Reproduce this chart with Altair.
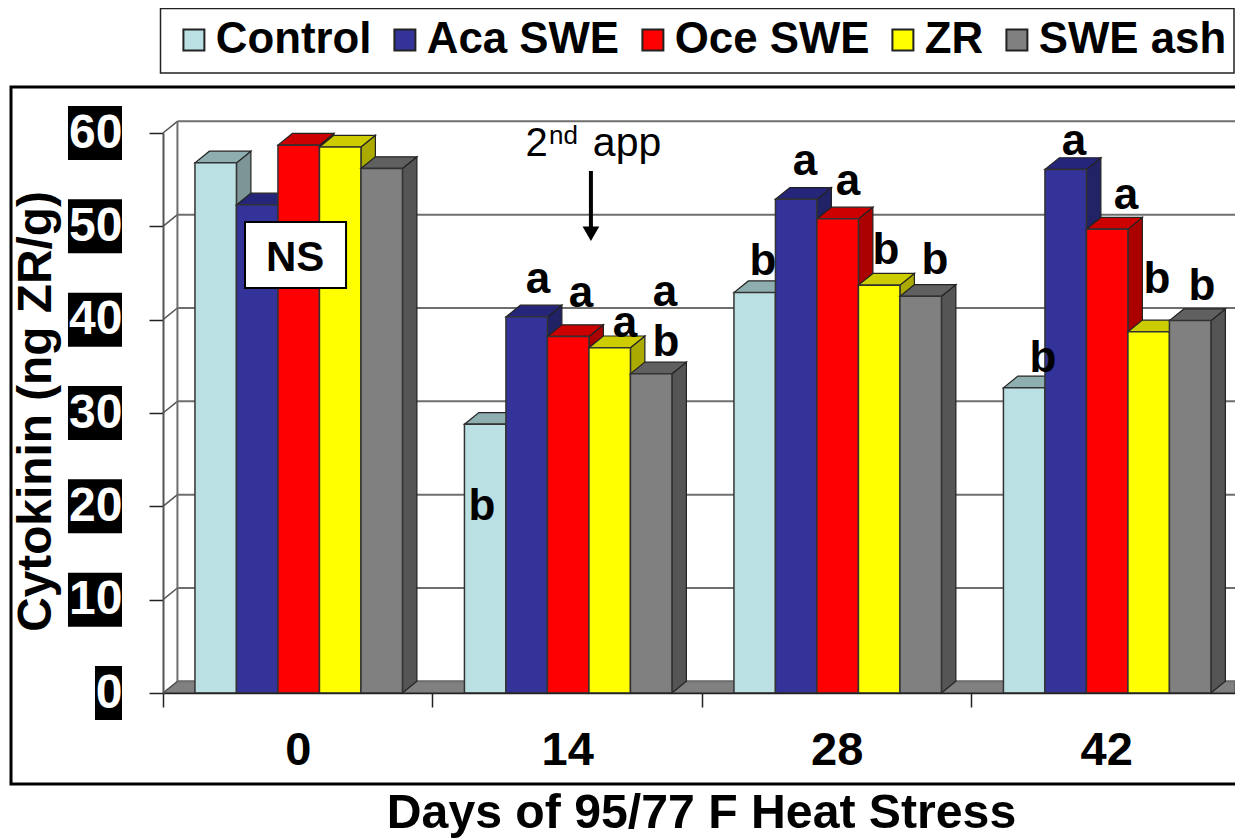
import altair as alt
import pandas as pd

days = [0, 14, 28, 42]
series = ["Control", "Aca SWE", "Oce SWE", "ZR", "SWE ash"]
control = [56.8, 28.8, 42.9, 32.7]
aca = [52.3, 40.3, 52.9, 56.1]
oce = [58.7, 38.2, 50.8, 49.7]
zr = [58.5, 37.0, 43.7, 38.7]
ash = [56.2, 34.2, 42.5, 39.9]
values = [control, aca, oce, zr, ash]

front_colors = ["#BBE0E3", "#333399", "#FF0000", "#FFFF00", "#808080"]
top_colors = ["#8FAEAF", "#25257A", "#CC0000", "#CCCC00", "#606060"]
side_colors = ["#7D9597", "#222266", "#AA0000", "#AAAA00", "#555555"]

y_ticks = [0, 10, 20, 30, 40, 50, 60]
x_ticks = [-7, 7, 21, 35]

letter_text = ["b", "a", "a", "a", "a", "b",
               "b", "a", "a", "b", "b",
               "b", "a", "a", "b", "b"]
letter_x = [9.57, 12.48, 14.71, 17.0, 19.08, 19.13,
            24.17, 26.35, 28.58, 30.56, 33.1,
            38.71, 40.32, 43.03, 44.64, 46.97]
letter_y = [18.54, 42.86, 41.36, 38.14, 41.47, 36.11,
            44.79, 55.5, 53.36, 45.96, 44.89,
            34.39, 57.64, 51.86, 42.86, 42.11]

BAR = 2.156      # bar width in days
START = -5.34    # first bar offset from the group's day
DX = 0.75        # depth of the 3-D effect, days
DY = 1.25        # depth of the 3-D effect, value units
X_MAX = 48.69

xs = alt.Scale(domain=[-7, X_MAX], nice=False, zero=False)
ys = alt.Scale(domain=[0, 60], nice=False, zero=False)
cs = alt.Scale(domain=series, range=front_colors)

FONT = "Liberation Sans"

x_axis = alt.Axis(
    values=x_ticks, labelExpr="datum.value + 7", labelOffset=134.75, labelOverlap=False,
    labelFont=FONT, labelFontWeight="bold", labelFontSize=47, labelColor="black",
    labelPadding=20, tickSize=14, tickColor="#222", tickWidth=1.5, domainColor="#222",
    domainWidth=1.5, grid=False, zindex=1, labelBound=False, labelFlush=False,
    title="Days of 95/77 F Heat Stress", titleFont=FONT, titleFontWeight="bold",
    titleFontSize=48.2, titleColor="black", titleX=538, titleY=120, titleBaseline="middle",
    titleAnchor="middle", titleLimit=900)
y_axis = alt.Axis(
    values=y_ticks, labelFont=FONT, labelFontWeight="bold", labelFontSize=48,
    labelColor="white", labelPadding=27, labelOverlap=False, labelBound=False, labelFlush=False,
    tickSize=14, tickColor="#222", tickWidth=1.5, domainColor="#555", domainWidth=2,
    grid=False, zindex=1,
    title="Cytokinin (ng ZR/g)", titleFont=FONT, titleFontWeight="bold", titleFontSize=47.8,
    titleColor="black", titleX=-127, titleY=278, titleAngle=270, titleBaseline="middle",
    titleAnchor="middle", titleLimit=900)


def X(f, **k):
    return alt.X(f, type="quantitative", scale=xs, axis=x_axis, **k)


def Y(f, **k):
    return alt.Y(f, type="quantitative", scale=ys, axis=y_axis, **k)


layers = []

# frame and legend box
one = pd.DataFrame({"a": [0]})
layers.append(alt.Chart(one).mark_rect(fill="white", stroke="black", strokeWidth=3).encode(
    x=alt.value(-152), x2=alt.value(1090), y=alt.value(-46), y2=alt.value(651)))
layers.append(alt.Chart(one).mark_rect(fill="white", stroke="#222", strokeWidth=1.5).encode(
    x=alt.value(-2.5), x2=alt.value(1071), y=alt.value(-124.5), y2=alt.value(-60)))

# floor
floor = pd.DataFrame({"x": [-7, -7 + DX, X_MAX], "y": [0, 0, 0], "y2": [0, DY, DY]})
layers.append(alt.Chart(floor).mark_area(orient="vertical", fill="#808080", stroke="#444", strokeWidth=1).encode(
    x=X("x"), y=Y("y"), y2="y2"))

# back wall grid, wall edges and connectors
grid = pd.DataFrame({"x": [-7 + DX] * 7, "x2": [X_MAX] * 7,
                     "y": [v + DY for v in y_ticks], "y2": [v + DY for v in y_ticks]})
layers.append(alt.Chart(grid).mark_rule(color="#6e6e6e", strokeWidth=2).encode(
    x=X("x"), x2="x2", y=Y("y"), y2="y2"))
conn = pd.DataFrame({"x": [-7] * 7, "x2": [-7 + DX] * 7,
                     "y": y_ticks, "y2": [v + DY for v in y_ticks]})
layers.append(alt.Chart(conn).mark_rule(color="#555", strokeWidth=1.5).encode(
    x=X("x"), x2="x2", y=Y("y"), y2="y2"))
wall = pd.DataFrame({"x": [-7 + DX], "x2": [-7 + DX], "y": [DY], "y2": [60 + DY]})
layers.append(alt.Chart(wall).mark_rule(color="#6e6e6e", strokeWidth=2).encode(
    x=X("x"), x2="x2", y=Y("y"), y2="y2"))

# bars, left to right, each one as side, top, front
for i, name in enumerate(series):
    front, side, top = [], [], []
    for d, v in zip(days, values[i]):
        x0 = d + START + i * BAR
        x1 = x0 + BAR
        front.append({"series": name, "x": x0, "x2": x1, "y": 0, "y2": v})
        side += [{"day": d, "x": x1, "y": 0, "y2": v},
                 {"day": d, "x": x1 + DX, "y": DY, "y2": v + DY}]
        top += [{"day": d, "x": x0, "y": v, "y2": v},
                {"day": d, "x": x0 + DX, "y": v, "y2": v + DY},
                {"day": d, "x": x1, "y": v, "y2": v + DY},
                {"day": d, "x": x1 + DX, "y": v + DY, "y2": v + DY}]
    layers.append(alt.Chart(pd.DataFrame(side)).mark_area(
        orient="vertical", fill=side_colors[i], stroke="#222", strokeWidth=1.2).encode(
        x=X("x"), y=Y("y"), y2="y2", detail="day:N"))
    layers.append(alt.Chart(pd.DataFrame(top)).mark_area(
        orient="vertical", fill=top_colors[i], stroke="#222", strokeWidth=1.2).encode(
        x=X("x"), y=Y("y"), y2="y2", detail="day:N"))
    layers.append(alt.Chart(pd.DataFrame(front)).mark_rect(stroke="#333", strokeWidth=1.5).encode(
        x=X("x"), x2="x2", y=Y("y"), y2="y2",
        color=alt.Color("series:N", scale=cs, legend=alt.Legend(
            orient="none", legendX=9, legendY=-115, direction="horizontal", columns=5,
            title=None, symbolType="square", symbolSize=440, symbolStrokeColor="#222",
            symbolStrokeWidth=2, labelFont=FONT, labelFontWeight="bold", labelFontSize=43.8,
            labelColor="black", labelOffset=0, columnPadding=11, padding=0,
            labelLimit=400))))

# black boxes behind the y tick labels
boxes = pd.DataFrame({"y": [v - 2.89 for v in y_ticks], "y2": [v + 2.89 for v in y_ticks],
                      "x": [-9.13 - 1.403 * len(str(v)) for v in y_ticks],
                      "x2": [-9.13] * 7})
layers.append(alt.Chart(boxes).mark_rect(fill="black").encode(
    x=X("x"), x2="x2", y=Y("y"), y2="y2"))

# significance letters
letters = pd.DataFrame({"x": letter_x, "y": letter_y, "t": letter_text})
layers.append(alt.Chart(letters).mark_text(
    font=FONT, fontWeight="bold", fontSize=44, color="black", baseline="alphabetic", align="center").encode(
    x=X("x"), y=Y("y"), text="t:N"))

# NS box
ns_box = pd.DataFrame({"x": [-2.74], "x2": [2.51], "y": [43.4], "y2": [50.47]})
layers.append(alt.Chart(ns_box).mark_rect(fill="white", stroke="black", strokeWidth=2).encode(
    x=X("x"), x2="x2", y=Y("y"), y2="y2"))
layers.append(alt.Chart(pd.DataFrame({"x": [-0.14], "y": [46.6], "t": ["NS"]})).mark_text(
    font=FONT, fontWeight="bold", fontSize=42, color="black", baseline="middle", align="center").encode(
    x=X("x"), y=Y("y"), text="t:N"))

# 2nd app annotation with arrow
for tx, ty, t, size in [(11.83, 57.5, "2", 40), (13.05, 58.8, "nd", 26), (15.33, 57.5, "app", 41)]:
    layers.append(alt.Chart(pd.DataFrame({"x": [tx], "y": [ty], "t": [t]})).mark_text(
        font=FONT, fontSize=size, color="black", baseline="alphabetic", align="left").encode(
        x=X("x"), y=Y("y"), text="t:N"))
layers.append(alt.Chart(pd.DataFrame({"x": [15.23], "x2": [15.23], "y": [55.93], "y2": [49.6]})).mark_rule(
    color="black", strokeWidth=4).encode(x=X("x"), x2="x2", y=Y("y"), y2="y2"))
layers.append(alt.Chart(pd.DataFrame({"x": [15.23], "y": [49.2]})).mark_point(
    shape="triangle-down", filled=True, color="black", size=280, opacity=1).encode(x=X("x"), y=Y("y")))

chart = alt.layer(*layers).resolve_scale(x="shared", y="shared", color="shared").properties(
    width=1072, height=560,
    padding={"left": 155, "top": 125, "right": 0, "bottom": 145},
    autosize=alt.AutoSizeParams(type="none"),
    background="white",
).configure_view(stroke=None)

chart.save("out.html", embed_options={"renderer": "svg", "actions": False})
